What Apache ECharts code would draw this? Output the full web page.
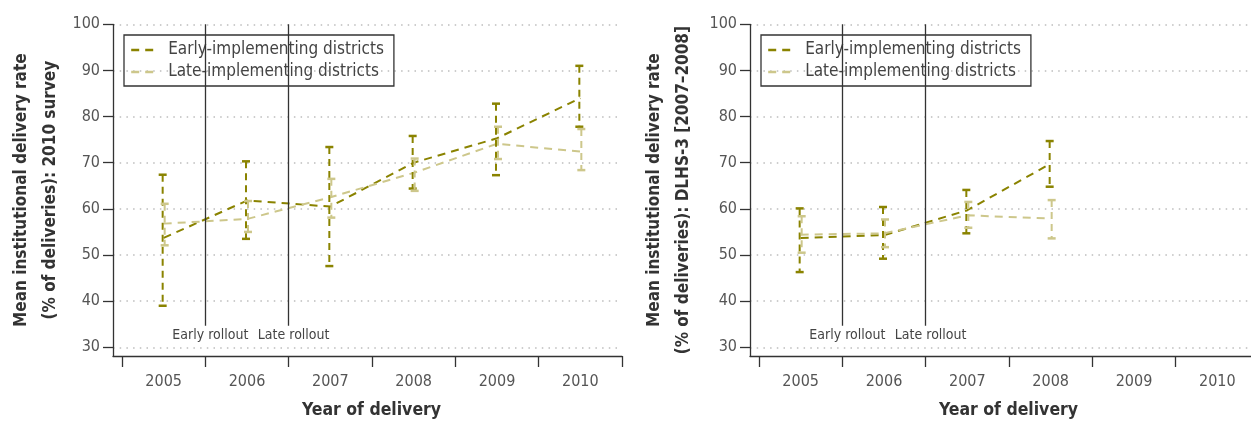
<!DOCTYPE html>
<html>
<head>
<meta charset="utf-8">
<script src="https://cdn.jsdelivr.net/npm/echarts@6/dist/echarts.min.js"></script>
<style>
html,body{margin:0;padding:0;background:#fff;}
#c{width:1251px;height:421px;}
</style>
</head>
<body>
<div id="c"></div>
<script>
// ---------- data ----------
const years = [2005, 2006, 2007, 2008, 2009, 2010];
const yTicks = [30, 40, 50, 60, 70, 80, 90, 100];
const xTickBounds = [2004.5, 2005.5, 2006.5, 2007.5, 2008.5, 2009.5, 2010.5];
const rolloutX = [2005.5, 2006.5];
const rolloutLabels = ['Early rollout', 'Late rollout'];
const seriesNames = ['Early-implementing districts', 'Late-implementing districts'];

// Panel A: 2010 survey
const a_earlyMean = [53.7, 61.8, 60.5, 70.0, 75.3, 84.0];
const a_earlyLow  = [39.0, 53.5, 47.6, 64.4, 67.3, 77.8];
const a_earlyHigh = [67.4, 70.3, 73.4, 75.8, 82.8, 91.0];
const a_lateMean  = [56.8, 57.8, 62.5, 67.8, 74.1, 72.4];
const a_lateLow   = [52.1, 55.0, 58.1, 63.9, 70.8, 68.4];
const a_lateHigh  = [61.1, 61.7, 66.5, 70.9, 77.8, 77.3];

// Panel B: DLHS-3 (2005-2008 only)
const b_years = [2005, 2006, 2007, 2008];
const b_earlyMean = [53.7, 54.3, 59.7, 69.8];
const b_earlyLow  = [46.3, 49.2, 54.7, 64.8];
const b_earlyHigh = [60.1, 60.4, 64.1, 74.7];
const b_lateMean  = [54.4, 54.7, 58.6, 57.9];
const b_lateLow   = [50.5, 51.7, 55.9, 53.6];
const b_lateHigh  = [58.4, 57.7, 61.5, 61.9];

const yTitles = [
  'Mean institutional delivery rate\n(% of deliveries): 2010 survey',
  'Mean institutional delivery rate\n(% of deliveries): DLHS-3 [2007\u20132008]'
];
const xTitle = 'Year of delivery';

// ---------- styles ----------
const FONT = "'DejaVu Sans Condensed', 'Liberation Sans Narrow', sans-serif";
const EARLY = '#8a8300';
const LATE = '#cdc78b';
const AXIS = '#333';
const TXT = '#555';
const DASH = [8, 6];
const ROLL_END = 34.68;

function zip(xs, ys) { return xs.map((x, i) => [x, ys[i]]); }
function zip3(xs, a, b) { return xs.map((x, i) => [x, a[i], b[i]]); }

function errRender(dx) {
  return function (params, api) {
    const x = api.value(0), lo = api.value(1), hi = api.value(2);
    const pLo = api.coord([x, lo]);
    const pHi = api.coord([x, hi]);
    const cx = pLo[0] + dx;
    const hw = 4;
    const c = api.visual('color');
    return {
      type: 'group',
      children: [
        { type: 'line', shape: { x1: cx, y1: pHi[1], x2: cx, y2: pLo[1] },
          style: { stroke: c, lineWidth: 2, lineDash: [7, 5] } },
        { type: 'line', shape: { x1: cx - hw, y1: pHi[1], x2: cx + hw, y2: pHi[1] },
          style: { stroke: c, lineWidth: 2.5 } },
        { type: 'line', shape: { x1: cx - hw, y1: pLo[1], x2: cx + hw, y2: pLo[1] },
          style: { stroke: c, lineWidth: 2.5 } }
      ]
    };
  };
}

function makeX(idx) {
  return {
    type: 'value', gridIndex: idx, min: 2004.392, max: 2010.5,
    name: xTitle, nameLocation: 'middle', nameGap: 45,
    nameTextStyle: { fontFamily: FONT, fontWeight: 'bold', fontSize: 17.5, color: '#333', padding: [0, 0, 0, 8] },
    axisLine: { show: true, lineStyle: { color: AXIS, width: 1.3 } },
    axisTick: { show: true, inside: false, length: 11, customValues: xTickBounds,
      lineStyle: { color: AXIS, width: 1.3 } },
    axisLabel: { customValues: years, margin: 18, fontFamily: FONT, fontSize: 16, color: TXT,
      formatter: v => String(Math.round(v)) },
    splitLine: { show: false }
  };
}
function makeY(idx) {
  return {
    type: 'value', gridIndex: idx, min: 28.11, max: 100,
    name: yTitles[idx], nameLocation: 'middle', nameGap: idx === 0 ? 48 : 52,
    nameTextStyle: { fontFamily: FONT, fontWeight: 'bold', fontSize: 17, lineHeight: 29, color: '#333' },
    axisLine: { show: true, lineStyle: { color: AXIS, width: 1.3 } },
    axisTick: { show: true, inside: false, length: 10, customValues: yTicks,
      lineStyle: { color: AXIS, width: 1.3 } },
    axisLabel: { customValues: yTicks, margin: 13, fontFamily: FONT, fontSize: 16, color: TXT },
    splitLine: { show: true, lineStyle: { color: '#bdbdbd', width: 1.5, type: [1.5, 5.2] } }
  };
}

function rolloutMarks() {
  return {
    silent: true, symbol: ['none', 'none'],
    lineStyle: { color: '#333', width: 1.3, type: 'solid' },
    label: { show: true, position: 'end', distance: 3, offset: [5, 0],
      fontFamily: FONT, fontSize: 14, color: '#444', formatter: p => p.name },
    data: rolloutX.map((x, i) => [
      { name: rolloutLabels[i], coord: [x, 100] },
      { coord: [x, ROLL_END] }
    ])
  };
}

function lineSeries(idx, name, xs, ys, color, withMarks) {
  const s = {
    type: 'line', name: name, xAxisIndex: idx, yAxisIndex: idx,
    data: zip(xs, ys), symbol: 'none', color: color,
    itemStyle: { color: color },
    lineStyle: { color: color, width: 2, type: DASH }, z: 3
  };
  if (withMarks) s.markLine = rolloutMarks();
  return s;
}
function errSeries(idx, name, xs, lo, hi, color, dx) {
  return {
    type: 'custom', name: name, xAxisIndex: idx, yAxisIndex: idx,
    data: zip3(xs, lo, hi), color: color, renderItem: errRender(dx),
    encode: { x: 0, y: [1, 2] }, z: 4
  };
}

function legendFor(left) {
  return {
    left: left, top: 35, orient: 'vertical',
    data: seriesNames,
    itemWidth: 24, itemHeight: 14, itemGap: 2,
    itemStyle: { opacity: 0 },
    lineStyle: { width: 2.4 },
    padding: [5, 10, 4, 6],
    borderColor: '#333', borderWidth: 1.3,
    textStyle: { fontFamily: FONT, fontSize: 17, lineHeight: 20, color: '#444', padding: [0, 0, 0, 8] }
  };
}

const chart = echarts.init(document.getElementById('c'), null, { renderer: 'canvas' });
chart.setOption({
  animation: false,
  backgroundColor: '#fff',
  textStyle: { fontFamily: FONT },
  legend: [legendFor(124), legendFor(761)],
  grid: [
    { left: 113, top: 24.3, width: 509, height: 331.7, outerBoundsMode: 'none', containLabel: false },
    { left: 750, top: 24.3, width: 509, height: 331.7, outerBoundsMode: 'none', containLabel: false }
  ],
  xAxis: [makeX(0), makeX(1)],
  yAxis: [makeY(0), makeY(1)],
  series: [
    lineSeries(0, seriesNames[0], years, a_earlyMean, EARLY, true),
    lineSeries(0, seriesNames[1], years, a_lateMean, LATE, false),
    errSeries(0, 'early-ci-a', years, a_earlyLow, a_earlyHigh, EARLY, -1),
    errSeries(0, 'late-ci-a', years, a_lateLow, a_lateHigh, LATE, 1),
    lineSeries(1, seriesNames[0], b_years, b_earlyMean, EARLY, true),
    lineSeries(1, seriesNames[1], b_years, b_lateMean, LATE, false),
    errSeries(1, 'early-ci-b', b_years, b_earlyLow, b_earlyHigh, EARLY, -1),
    errSeries(1, 'late-ci-b', b_years, b_lateLow, b_lateHigh, LATE, 1)
  ]
});
</script>
</body>
</html>
